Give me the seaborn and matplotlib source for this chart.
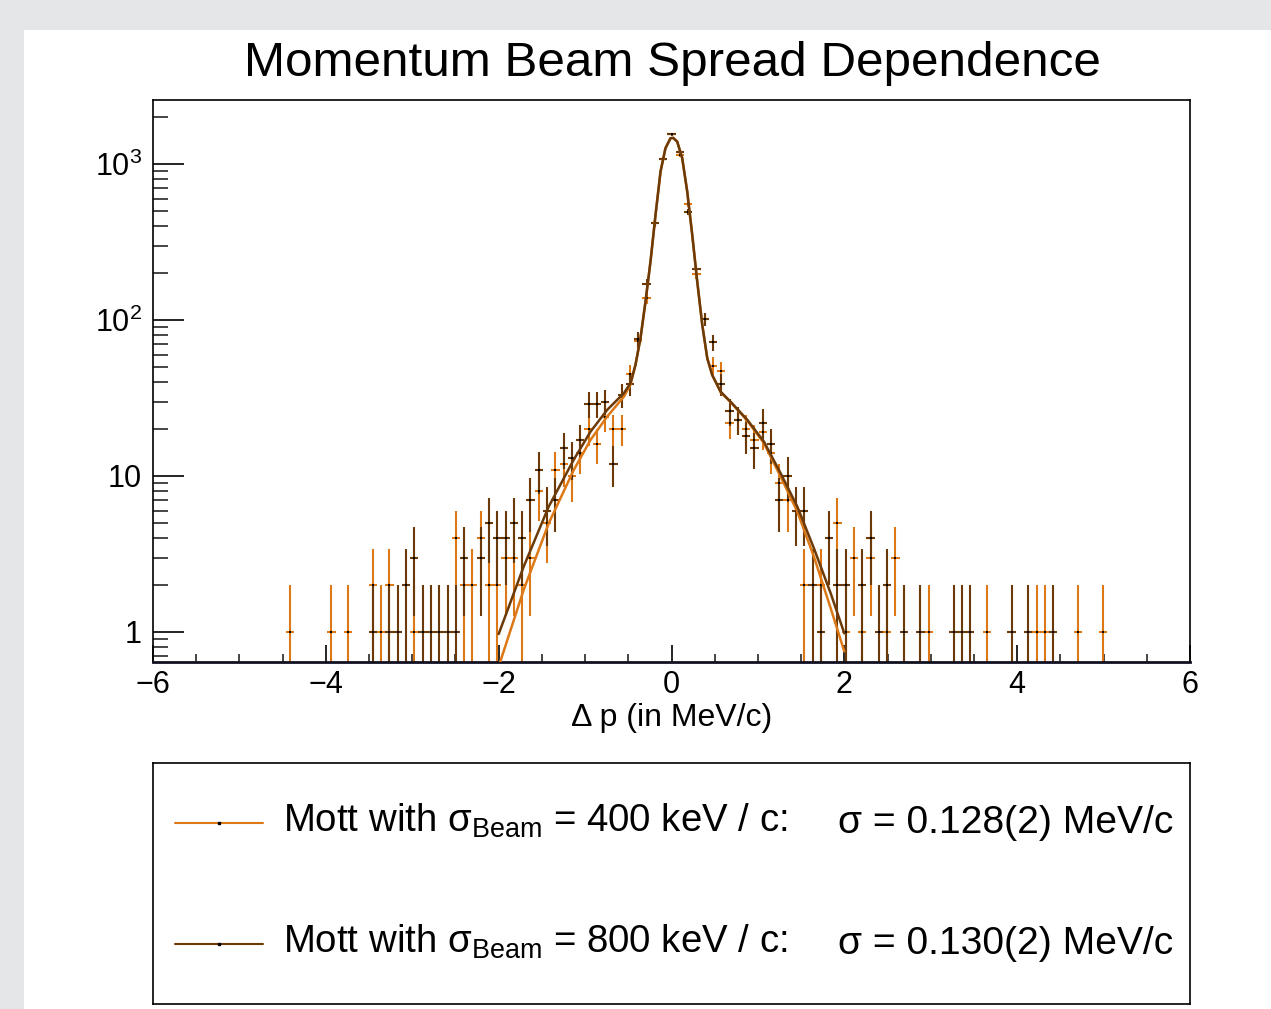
import matplotlib
matplotlib.use("Agg")
import matplotlib.pyplot as plt
from matplotlib.patches import Rectangle
from matplotlib.ticker import FixedLocator, LogLocator, MultipleLocator, NullFormatter
import numpy as np
import seaborn as sns

# ----------------------------------------------------------------------
# data (bin width 0.096 MeV/c, centres at k*BIN_W)
# ----------------------------------------------------------------------
BIN_W = 0.096

# sigma_Beam = 400 keV/c  (orange)
bins_400 = [-46, -41, -39, -36, -35, -34, -31, -26, -25, -24, -23, -22, -21, -20,
            -19, -18, -17, -16, -15, -14, -13, -12, -11, -10, -9, -8, -7, -6, -5,
            -4, -3, -2, -1, 0, 1, 2, 3, 4, 5, 6, 7, 8, 9, 10, 11, 12, 13, 14, 16,
            18, 20, 21, 22, 23, 24, 26, 27, 31, 38, 44, 45, 49, 52]
counts_400 = [1, 1, 1, 2, 1, 2, 1, 4, 2, 2, 4, 2, 2, 3,
              3, 2, 3, 8, 5, 11, 12, 10, 14, 20, 16, 24, 20, 20, 45,
              73, 138, 417, 1077, 1550, 1142, 552, 196, 101, 51, 47, 22, 23, 20, 17, 19, 14, 9, 7, 2,
              2, 5, 1, 3, 1, 3, 1, 3, 1, 1, 1, 1, 1, 1]

# sigma_Beam = 800 keV/c  (brown)
bins_800 = [-36, -34, -33, -32, -31, -30, -29, -28, -27, -26, -25, -23, -22, -21,
            -20, -19, -18, -17, -16, -15, -14, -13, -12, -11, -10, -9, -8, -7, -6,
            -5, -4, -3, -2, -1, 0, 1, 2, 3, 4, 5, 6, 7, 8, 9, 10, 11, 12, 13, 14,
            15, 16, 17, 18, 19, 20, 21, 23, 24, 25, 26, 28, 30, 34, 35, 36, 41, 43, 46]
counts_800 = [1, 1, 1, 2, 3, 1, 1, 1, 1, 1, 3, 3, 5, 4,
              4, 5, 4, 7, 11, 6, 7, 15, 13, 17, 29, 29, 30, 12, 33,
              39, 75, 170, 417, 1077, 1550, 1188, 495, 212, 101, 72, 39, 26, 23, 18, 15, 22, 16, 7, 10,
              6, 6, 2, 1, 4, 2, 2, 2, 4, 1, 2, 1, 1, 1, 1, 1, 1, 1, 1]

# fit curves, points
core_x = [-0.417, -0.359, -0.301, -0.243, -0.185, -0.127, -0.070, -0.012, 0.019,
          0.066, 0.124, 0.182, 0.240, 0.298, 0.356, 0.414, 0.471]
core_y = [51.5, 76.3, 131, 237, 471, 893, 1261, 1461, 1470,
          1390, 1088, 665, 351, 176, 93, 56.8, 44.4]

fit400_left_x = [-2.0, -1.711, -1.421, -1.132, -0.938, -0.745, -0.552, -0.475]
fit400_left_y = [0.60, 1.86, 4.97, 10.9, 17.0, 24.0, 32.2, 38.5]
fit400_right_x = [0.568, 0.684, 0.877, 1.070, 1.263, 1.456, 1.648, 1.842, 2.0]
fit400_right_y = [34.5, 29.7, 22.6, 16.2, 9.9, 5.9, 3.04, 1.42, 0.75]

fit800_left_x = [-2.0, -1.711, -1.421, -1.132, -0.938, -0.745, -0.552, -0.475]
fit800_left_y = [0.97, 2.62, 6.36, 12.7, 19.2, 26.5, 33.9, 39.3]
fit800_right_x = [0.568, 0.684, 0.877, 1.070, 1.263, 1.456, 1.648, 1.842, 2.0]
fit800_right_y = [34.7, 29.9, 22.9, 16.6, 10.4, 6.36, 3.44, 1.77, 0.98]

y_ticks = [1, 10, 100, 1000]
y_ticklabels = ["1", "10", r"$\mathregular{10^{2}}$", r"$\mathregular{10^{3}}$"]

labels = [r"Mott with σ$_{\mathregular{Beam}}$ = 400 keV / c:",
          r"Mott with σ$_{\mathregular{Beam}}$ = 800 keV / c:"]
sigma_labels = ["σ = 0.128(2) MeV/c", "σ = 0.130(2) MeV/c"]

ORANGE = "#dc7816"
BROWN = "#6b3a08"

# ----------------------------------------------------------------------
sns.set_theme(style="ticks")
plt.rcParams["font.family"] = ["Liberation Sans", "DejaVu Sans"]
plt.rcParams["mathtext.fontset"] = "custom"
plt.rcParams["mathtext.rm"] = "Liberation Sans"
plt.rcParams["mathtext.it"] = "Liberation Sans:italic"
plt.rcParams["mathtext.bf"] = "Liberation Sans:bold"

W, H = 1271, 1009
fig = plt.figure(figsize=(W / 100, H / 100), dpi=100, facecolor="#e5e6e8")
fig.add_artist(Rectangle((24 / W, 0), 1 - 24 / W, 1 - 30 / H, transform=fig.transFigure,
                         facecolor="white", edgecolor="none", zorder=-10))

ax = fig.add_axes([153 / W, 1 - 662 / H, (1190 - 153) / W, (662 - 100) / H])
ax.set_facecolor("white")


def draw_hist(bins, counts, color):
    x = np.array(bins) * BIN_W
    n = np.array(counts, dtype=float)
    err = np.sqrt(n)
    lo = np.minimum(err, n - 1e-3)
    ax.errorbar(x, n, xerr=BIN_W / 2, yerr=[lo, err], fmt="none",
                ecolor=color, elinewidth=1.5, capsize=0, zorder=2)
    sns.scatterplot(x=x, y=n, ax=ax, color="black", marker="s", s=2,
                    linewidth=0, zorder=3, legend=False)


def draw_fit(lx, ly, rx, ry, color):
    fx = list(lx) + list(core_x) + list(rx)
    fy = list(ly) + list(core_y) + list(ry)
    sns.lineplot(x=fx, y=fy, ax=ax, color=color, linewidth=1.8, sort=False,
                 estimator=None, zorder=4)


draw_hist(bins_400, counts_400, ORANGE)
draw_fit(fit400_left_x, fit400_left_y, fit400_right_x, fit400_right_y, ORANGE)
draw_hist(bins_800, counts_800, BROWN)
draw_fit(fit800_left_x, fit800_left_y, fit800_right_x, fit800_right_y, BROWN)

ax.set_yscale("log")
ax.set_xlim(-6, 6)
ax.set_ylim(0.642, 2570)

ax.xaxis.set_major_locator(MultipleLocator(2))
ax.xaxis.set_minor_locator(MultipleLocator(0.5))
ax.yaxis.set_major_locator(FixedLocator(y_ticks))
ax.set_yticklabels(y_ticklabels)
ax.yaxis.set_minor_locator(LogLocator(base=10, subs=np.arange(2, 10)))
ax.yaxis.set_minor_formatter(NullFormatter())

ax.tick_params(axis="x", which="major", direction="in", length=12, width=1.2,
               labelsize=22, pad=6, top=False, colors="black")
ax.tick_params(axis="x", which="minor", direction="in", length=6, width=1.2, top=False)
ax.tick_params(axis="y", which="major", direction="in", length=22, width=1.2,
               labelsize=22, pad=8, right=False, colors="black")
ax.tick_params(axis="y", which="minor", direction="in", length=11, width=1.2, right=False)

for s in ax.spines.values():
    s.set_color("black")
    s.set_linewidth(1.2)
ax.spines["bottom"].set_linewidth(2.0)
ax.spines["bottom"].set_color("#101020")

ax.set_xlabel("Δ p (in MeV/c)", fontsize=23, labelpad=2, color="black")
ax.set_ylabel("")

fig.text(672 / W, 1 - 63 / H, "Momentum Beam Spread Dependence", ha="center",
         va="center", fontsize=35.6, color="black")

# ----------------------------------------------------------------------
# legend box
# ----------------------------------------------------------------------
lg = fig.add_axes([153 / W, 1 - 1004 / H, (1190 - 153) / W, (1004 - 763) / H])
lg.set_xlim(0, 1)
lg.set_ylim(0, 1)
lg.set_xticks([])
lg.set_yticks([])
lg.set_facecolor("white")
for s in lg.spines.values():
    s.set_color("black")
    s.set_linewidth(1.2)

rows_y = [0.751, 0.249]
for yy, col, lab, sig in zip(rows_y, [ORANGE, BROWN], labels, sigma_labels):
    lg.plot([0.0212, 0.106], [yy, yy], color=col, linewidth=1.5)
    lg.plot([0.0636], [yy], marker="s", ms=1.5, color="black", ls="none")
    lg.text(0.1254, yy + 0.01, lab, fontsize=27.6, ha="left", va="center", color="black")
    lg.text(0.6606, yy, sig, fontsize=28.1, ha="left", va="center", color="black")

fig.savefig("out.png", dpi=100, facecolor=fig.get_facecolor())
